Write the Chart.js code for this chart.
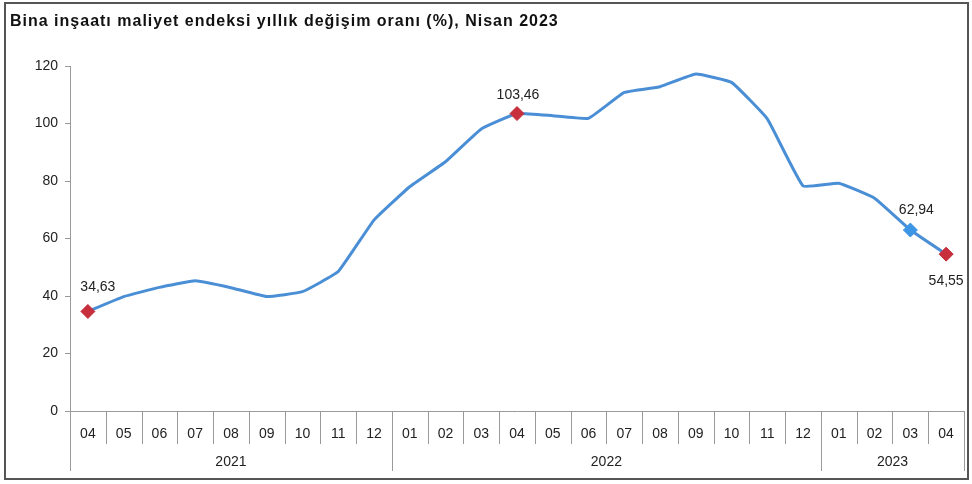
<!DOCTYPE html>
<html>
<head>
<meta charset="utf-8">
<script src="https://cdn.jsdelivr.net/npm/chart.js@4"></script>
<style>
  html, body { margin: 0; padding: 0; background: #fff; }
  #wrap { width: 972px; height: 484px; }
</style>
</head>
<body>
<div id="wrap"><canvas id="chart" width="972" height="484"></canvas></div>
<script>
// months (x axis) and the year each one belongs to
const months = ["04","05","06","07","08","09","10","11","12",
  "01","02","03","04","05","06","07","08","09","10","11","12",
  "01","02","03","04"]
const years = ["2021","2021","2021","2021","2021","2021","2021","2021","2021",
  "2022","2022","2022","2022","2022","2022","2022","2022","2022","2022","2022","2022",
  "2023","2023","2023","2023"]

// annual change (%)
const changeRate = [34.63, 39.8, 43.0, 45.3, 42.9, 39.8, 41.5, 48.5, 66.4,
  78.0, 86.7, 98.1, 103.46, 102.7, 101.8, 110.8, 112.8, 117.2, 114.3, 101.6, 78.3,
  79.2, 74.0, 62.94, 54.55]

// points with a marker and a label
const marked = { 0: "above", 12: "above", 23: "above", 24: "below" }
const yTicks = [0, 20, 40, 60, 80, 100, 120]
const title = "Bina inşaatı maliyet endeksi yıllık değişim oranı (%), Nisan 2023"

const LINE = "#4a8fd6"
const RED = "#c62f3b"
const BLUE = "#3d95e6"
const FONT = "'Liberation Sans', Arial, sans-serif"

const fmt = (v) => v.toFixed(2).replace(".", ",")

const frame = {
  id: "frame",
  beforeDraw(chart) {
    const ctx = chart.ctx
    ctx.save()
    ctx.fillStyle = "#fff"
    ctx.fillRect(0, 0, chart.width, chart.height)
    ctx.strokeStyle = "#555"
    ctx.lineWidth = 2
    ctx.strokeRect(5, 3, 963, 476)
    ctx.fillStyle = "#111"
    ctx.font = "bold 16px " + FONT
    ctx.letterSpacing = "1px"
    ctx.textBaseline = "middle"
    ctx.fillText(title, 10, 22)
    ctx.restore()
  },
}

// month separators + year row under the x axis
const yearAxis = {
  id: "yearAxis",
  afterDraw(chart) {
    const ctx = chart.ctx
    const x = chart.scales.x
    const bottom = chart.chartArea.bottom
    const half = (x.getPixelForValue(1) - x.getPixelForValue(0)) / 2
    ctx.save()
    ctx.strokeStyle = "#9a9a9a"
    ctx.lineWidth = 1
    for (let i = 0; i <= months.length; i++) {
      const px = Math.round(x.getPixelForValue(i) - half) + 0.5
      const yearEdge = i === 0 || i === months.length || years[i] !== years[i - 1]
      ctx.beginPath()
      ctx.moveTo(px, bottom)
      ctx.lineTo(px, bottom + (yearEdge ? 60 : 33))
      ctx.stroke()
    }
    ctx.fillStyle = "#222"
    ctx.font = "14px " + FONT
    ctx.textAlign = "center"
    ctx.textBaseline = "middle"
    let start = 0
    for (let i = 1; i <= years.length; i++) {
      if (i === years.length || years[i] !== years[start]) {
        const mid = (x.getPixelForValue(start) + x.getPixelForValue(i - 1)) / 2
        ctx.fillText(years[start], mid, bottom + 51)
        start = i
      }
    }
    ctx.restore()
  },
}

const pointLabels = {
  id: "pointLabels",
  afterDatasetsDraw(chart) {
    const ctx = chart.ctx
    const meta = chart.getDatasetMeta(0)
    ctx.save()
    ctx.fillStyle = "#222"
    ctx.font = "14px " + FONT
    ctx.textAlign = "center"
    ctx.textBaseline = "middle"
    const shift = { 0: [10, -24], 12: [1, -18], 23: [6, -20], 24: [0, 27] }
    Object.keys(marked).forEach((k) => {
      const i = Number(k)
      const p = meta.data[i]
      ctx.fillText(fmt(changeRate[i]), p.x + shift[k][0], p.y + shift[k][1])
    })
    ctx.restore()
  },
}

new Chart(document.getElementById("chart"), {
  type: "line",
  data: {
    labels: months,
    datasets: [
      {
        data: changeRate,
        borderColor: LINE,
        borderWidth: 3,
        tension: 0.1,
        pointStyle: "rectRot",
        pointRadius: (c) => (marked[c.dataIndex] ? 7 : 0),
        pointBackgroundColor: (c) => (c.dataIndex === 23 ? BLUE : RED),
        pointBorderColor: (c) => (c.dataIndex === 23 ? BLUE : RED),
        pointBorderWidth: 1,
      },
    ],
  },
  options: {
    responsive: false,
    animation: false,
    layout: { padding: { left: 10, right: 6, top: 66, bottom: 3 } },
    plugins: {
      legend: { display: false },
      tooltip: { enabled: false },
      title: { display: false },
    },
    scales: {
      x: {
        offset: true,
        grid: { display: false },
        border: { display: true, color: "#9a9a9a" },
        ticks: {
          color: "#222",
          font: { family: FONT, size: 14 },
          padding: 7,
          maxRotation: 0,
          autoSkip: false,
        },
        afterFit: (s) => { s.height = 70 },
      },
      y: {
        min: 0,
        max: 120,
        afterBuildTicks: (s) => { s.ticks = yTicks.map((v) => ({ value: v })) },
        grid: { drawOnChartArea: false, tickLength: 5, color: "#9a9a9a" },
        border: { color: "#9a9a9a" },
        ticks: {
          color: "#222",
          font: { family: FONT, size: 14 },
          padding: 7,
        },
        afterFit: (s) => { s.width = 60 },
      },
    },
  },
  plugins: [frame, yearAxis, pointLabels],
})
</script>
</body>
</html>
